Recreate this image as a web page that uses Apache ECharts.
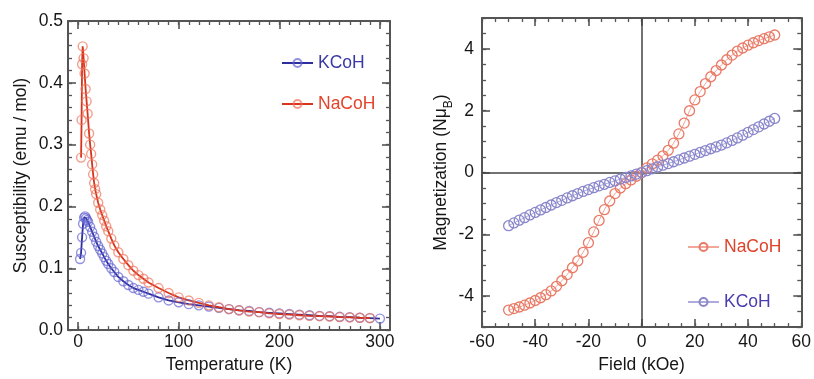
<!DOCTYPE html>
<html><head><meta charset="utf-8">
<script src="https://cdn.jsdelivr.net/npm/echarts@6/dist/echarts.min.js"></script>
<style>html,body{margin:0;padding:0;background:#fff}#c{width:814px;height:379px}</style>
</head><body><div id="c"></div>
<script>
// ---- Left panel: susceptibility vs temperature ----
const tempK = [2,3,4,5,6,7,8,9,10,12,14,16,18,20,22,24,26,28,30,33,36,40,45,50,55,60,65,70,80,90,100,110,120,130,140,150,160,170,180,190,200,210,220,230,240,250,260,270,280,290,300];
const chiK  = [0.115,0.125,0.150,0.172,0.182,0.184,0.181,0.178,0.175,0.167,0.159,0.151,0.143,0.136,0.130,0.124,0.118,0.112,0.107,0.100,0.094,0.086,0.079,0.073,0.068,0.065,0.062,0.059,0.053,0.048,0.045,0.042,0.040,0.038,0.036,0.034,0.032,0.031,0.029,0.028,0.027,0.026,0.025,0.024,0.023,0.0225,0.0215,0.021,0.020,0.0193,0.0186];
const tempNa = [3,3.5,4,4.6,5.5,6.5,7.5,8.5,9.5,11,12,13,14,15,16,17,18,20,22,24,26,28,30,33,36,40,45,50,55,60,65,70,80,90,100,110,120,130,140,150,160,170,180,190,200,210,220,230,240,250,260,270,280,290];
const chiNa  = [0.279,0.34,0.43,0.459,0.44,0.415,0.39,0.37,0.35,0.318,0.300,0.285,0.268,0.252,0.238,0.228,0.220,0.206,0.195,0.186,0.177,0.168,0.160,0.148,0.137,0.126,0.115,0.105,0.096,0.089,0.083,0.077,0.068,0.060,0.053,0.048,0.044,0.040,0.037,0.034,0.032,0.030,0.029,0.027,0.026,0.025,0.024,0.023,0.0225,0.022,0.021,0.0205,0.020,0.0196];
const leftXLabels = [0,100,200,300];
const leftYLabels = [0,0.1,0.2,0.3,0.4,0.5];

// ---- Right panel: magnetization vs field ----
const fieldKOe = [-50,-48,-46,-44,-42,-40,-38,-36,-34,-32,-30,-28,-26,-24,-22,-20,-18,-16,-14,-12,-10,-8,-6,-4,-2,0,2,4,6,8,10,12,14,16,18,20,22,24,26,28,30,32,34,36,38,40,42,44,46,48,50];
const magNa = [-4.45,-4.40,-4.35,-4.29,-4.22,-4.14,-4.05,-3.95,-3.83,-3.68,-3.50,-3.30,-3.08,-2.86,-2.58,-2.27,-1.92,-1.55,-1.20,-0.92,-0.68,-0.50,-0.36,-0.24,-0.12,0.00,0.15,0.28,0.40,0.54,0.72,0.95,1.25,1.60,2.00,2.35,2.62,2.88,3.10,3.30,3.48,3.65,3.80,3.93,4.03,4.12,4.20,4.27,4.33,4.39,4.45];
const magK  = [-1.72,-1.63,-1.54,-1.46,-1.37,-1.29,-1.21,-1.13,-1.05,-0.97,-0.90,-0.82,-0.75,-0.68,-0.61,-0.55,-0.49,-0.43,-0.38,-0.32,-0.27,-0.21,-0.16,-0.11,-0.05,0.00,0.06,0.12,0.18,0.24,0.29,0.35,0.41,0.47,0.53,0.59,0.65,0.71,0.77,0.83,0.89,0.96,1.04,1.12,1.21,1.30,1.39,1.48,1.57,1.66,1.75];
const rightXLabels = [-60,-40,-20,0,20,40,60];
const rightYLabels = [-4,-2,0,2,4];

function steps(a, b, s) { const r = []; for (let v = a; v <= b + 1e-9; v += s) r.push(+v.toFixed(4)); return r; }

const FRAME = '#555';
const FS = 17.5;
const FONT = 'Liberation Sans, Arial, sans-serif';
const TXT = '#161616';

function axes(dim, grid, pos, min, max, majors, minors, label) {
  const major = {
    type: 'value', gridIndex: grid, position: pos, min: min, max: max,
    axisLine: { show: true, onZero: false, lineStyle: { color: FRAME, width: 2 } },
    axisTick: { show: true, inside: true, length: 8, customValues: majors, lineStyle: { color: FRAME, width: 1.6 } },
    axisLabel: label ? Object.assign({ show: true, customValues: majors, fontSize: FS, fontFamily: FONT, color: TXT }, label) : { show: false },
    splitLine: { show: false }
  };
  const minor = {
    type: 'value', gridIndex: grid, position: pos, min: min, max: max,
    axisLine: { show: false, onZero: false },
    axisTick: { show: true, inside: true, length: 4, customValues: minors, lineStyle: { color: FRAME, width: 1.3 } },
    axisLabel: { show: false },
    splitLine: { show: false }
  };
  return [major, minor];
}

const xAxes = [], yAxes = [];
// grid 0
const lx = axes('x', 0, 'bottom', -10, 310, leftXLabels, steps(0, 300, 10), { margin: 3 });
Object.assign(lx[0], { name: 'Temperature (K)', nameLocation: 'middle', nameGap: 21, nameTextStyle: { fontSize: FS, fontFamily: FONT, color: TXT } });
xAxes.push(...lx, ...axes('x', 0, 'top', -10, 310, leftXLabels, steps(0, 300, 10), null));
const ly = axes('y', 0, 'left', 0, 0.5, leftYLabels, steps(0, 0.5, 0.02), { margin: 5, formatter: v => v.toFixed(1) });
Object.assign(ly[0], { name: 'Susceptibility (emu / mol)', nameLocation: 'middle', nameGap: 38, nameRotate: 90, nameTextStyle: { fontSize: FS, fontFamily: FONT, color: TXT } });
yAxes.push(...ly, ...axes('y', 0, 'right', 0, 0.5, leftYLabels, steps(0, 0.5, 0.02), null));
// grid 1
const rx = axes('x', 1, 'bottom', -60, 60, rightXLabels, steps(-60, 60, 5), { margin: 6 });
Object.assign(rx[0], { name: 'Field (kOe)', nameLocation: 'middle', nameGap: 21, nameTextStyle: { fontSize: FS, fontFamily: FONT, color: TXT } });
xAxes.push(...rx, ...axes('x', 1, 'top', -60, 60, rightXLabels, steps(-60, 60, 5), null));
const ry = axes('y', 1, 'left', -5, 5, rightYLabels, steps(-5, 5, 0.5), { margin: 8 });
Object.assign(ry[0], {
  name: '{a|Magnetization (Nμ}{s|B}{a|)}', nameLocation: 'middle', nameGap: 24, nameRotate: 90,
  nameTextStyle: { fontFamily: FONT, color: TXT, rich: {
    a: { fontSize: FS, fontFamily: FONT, color: TXT, lineHeight: 26, verticalAlign: 'middle' },
    s: { fontSize: 12, fontFamily: FONT, color: TXT, lineHeight: 12, verticalAlign: 'bottom' } } }
});
yAxes.push(...ry, ...axes('y', 1, 'right', -5, 5, rightYLabels, steps(-5, 5, 0.5), null));

const pairs = (xs, ys) => xs.map((x, i) => [x, ys[i]]);

function legend(name, left, cy, color) {
  return {
    data: [name], left: left, top: cy - 10, padding: 0, itemWidth: 31, itemHeight: 10, itemGap: 0,
    selectedMode: false, formatter: n => n.replace('_M', ''),
    textStyle: { color: color, fontSize: FS, fontFamily: FONT, lineHeight: 20 }
  };
}

const option = {
  animation: false,
  backgroundColor: '#fff',
  grid: [
    { left: 68, top: 21, width: 322, height: 314 },
    { left: 482, top: 18, width: 322, height: 314 }
  ],
  xAxis: xAxes,
  yAxis: yAxes,
  legend: [
    legend('KCoH', 281, 63, '#3a3aa6'),
    legend('NaCoH', 281, 104, '#e4432c'),
    legend('NaCoH_M', 687, 247, '#e0432b'),
    legend('KCoH_M', 687, 302, '#4a3cb0')
  ],
  series: [
    { name: 'KCoH', type: 'line', xAxisIndex: 0, yAxisIndex: 0, data: pairs(tempK, chiK),
      symbol: 'circle', symbolSize: 9,
      lineStyle: { color: '#2e2e9e', width: 1.8 },
      itemStyle: { color: 'rgba(0,0,0,0)', borderColor: 'rgba(100,100,210,0.7)', borderWidth: 1.4 } },
    { name: 'NaCoH', type: 'line', xAxisIndex: 0, yAxisIndex: 0, data: pairs(tempNa, chiNa),
      symbol: 'circle', symbolSize: 9,
      lineStyle: { color: '#d8331c', width: 1.8 },
      itemStyle: { color: 'rgba(0,0,0,0)', borderColor: 'rgba(238,115,90,0.7)', borderWidth: 1.4 } },
    { name: 'NaCoH_M', type: 'line', xAxisIndex: 4, yAxisIndex: 4, data: pairs(fieldKOe, magNa),
      symbol: 'circle', symbolSize: 10,
      lineStyle: { color: 'rgba(235,130,110,0.7)', width: 1 },
      itemStyle: { color: 'rgba(0,0,0,0)', borderColor: '#ea7a66', borderWidth: 1.3 } },
    { name: 'KCoH_M', type: 'line', xAxisIndex: 4, yAxisIndex: 4, data: pairs(fieldKOe, magK),
      symbol: 'circle', symbolSize: 10,
      lineStyle: { color: 'rgba(140,135,205,0.7)', width: 1 },
      itemStyle: { color: 'rgba(0,0,0,0)', borderColor: '#8a86cc', borderWidth: 1.3 },
      markLine: { silent: true, symbol: 'none', label: { show: false }, z: 1,
        lineStyle: { color: '#444', width: 1.5, type: 'solid' },
        data: [{ xAxis: 0 }, { yAxis: 0 }] } }
  ]
};
echarts.init(document.getElementById('c')).setOption(option);
</script></body></html>
